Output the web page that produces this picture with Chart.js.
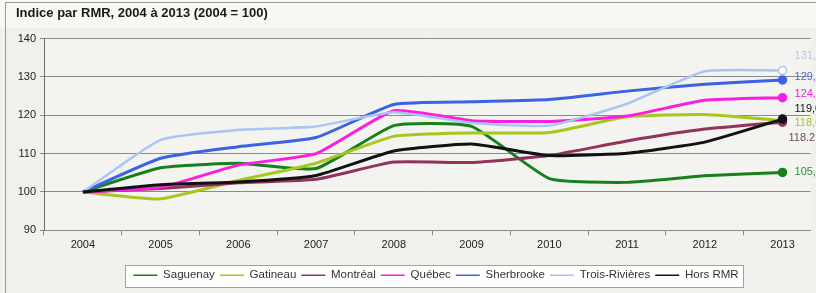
<!DOCTYPE html>
<html>
<head>
<meta charset="utf-8">
<script src="https://cdn.jsdelivr.net/npm/chart.js@4.4.0/dist/chart.umd.min.js"></script>
<style>
    html, body { margin: 0; padding: 0; background: #f0f0ec; }
    #wrap { width: 816px; height: 293px; position: relative; }
</style>
</head>
<body>
<div id="wrap"><canvas id="rmrChart" width="816" height="293"></canvas></div>
<script>
// années
const years = [2004, 2005, 2006, 2007, 2008, 2009, 2010, 2011, 2012, 2013];

const seriesNames = ['Saguenay', 'Gatineau', 'Montréal', 'Québec', 'Sherbrooke', 'Trois-Rivières', 'Hors RMR'];

const saguenay     = [100, 106.3, 107.5, 106.1, 117.3, 117.1, 103.5, 102.5, 104.2, 105.1];
const gatineau     = [100, 98.2, 103.0, 107.5, 114.5, 115.4, 115.5, 119.6, 120.2, 118.6];
const montreal     = [100, 100.9, 102.4, 103.3, 107.8, 107.7, 109.5, 113.3, 116.4, 118.2];
const quebec       = [100, 101.2, 107.0, 110.0, 121.2, 118.6, 118.4, 119.8, 123.9, 124.6];
const sherbrooke   = [100, 108.8, 111.8, 114.2, 122.8, 123.5, 124.1, 126.3, 128.1, 129.2];
const troisRiviere = [100, 113.6, 116.2, 117.1, 120.8, 118.0, 117.3, 123.0, 131.5, 131.7];
const horsRmr      = [100, 101.9, 102.6, 104.3, 110.7, 112.5, 109.5, 110.1, 113.0, 119.0];

const yTicks = [90, 100, 110, 120, 130, 140];

const allSeries = [saguenay, gatineau, montreal, quebec, sherbrooke, troisRiviere, horsRmr];

const LINE_COLORS  = ['#17801c', '#a6c81e', '#93325a', '#fa1ee0', '#3b63e4', '#a9c6f2', '#121212'];
const LABEL_COLORS = ['#2f8f34', '#a6c81e', '#6e4a5e', '#f01ed8', '#4a6ad8', '#b4c8e6', '#111111'];
const LABEL_DY     = [0, 2, 16, -4, -3, -14, -10];
const LABEL_DX     = [12, 12, 6, 12, 12, 12, 12];

const datasets = allSeries.map((vals, i) => {
    const last = vals.length - 1;
    return {
        label: seriesNames[i],
        data: vals.map((v, k) => ({ x: years[k], y: v })),
        borderColor: LINE_COLORS[i],
        backgroundColor: LINE_COLORS[i],
        borderWidth: i === 5 ? 2.5 : 3,
        tension: 0.15,
        order: allSeries.length - 1 - i,
        pointRadius: vals.map((v, k) => k === last ? 4 : 0),
        pointBackgroundColor: i === 5 ? '#ffffff' : LINE_COLORS[i],
        pointBorderColor: LINE_COLORS[i],
        pointBorderWidth: 1.5
    };
});

const bgPlugin = {
    id: 'bg',
    beforeDraw(chart) {
        const { ctx, chartArea: a } = chart;
        ctx.save();
        ctx.fillStyle = '#f7f7f4';
        ctx.fillRect(0, 0, chart.width, 28);
        ctx.fillStyle = '#f3f3ef';
        ctx.fillRect(a.left, a.top, a.right - a.left, a.bottom - a.top);
        ctx.strokeStyle = '#9a9a9a';
        ctx.lineWidth = 1;
        ctx.beginPath();
        ctx.moveTo(5.5, 2);
        ctx.lineTo(5.5, chart.height);
        ctx.moveTo(5.5, 2.5);
        ctx.lineTo(chart.width, 2.5);
        ctx.stroke();
        ctx.restore();
    }
};

// décale la légende (centrée un peu à droite dans l'original)
const legendShift = { dx: 20, dy: 10 };

function legendRect(chart) {
    const boxes = chart.legend && chart.legend.legendHitBoxes;
    if (!boxes || !boxes.length) return null;
    const left = Math.min(...boxes.map(b => b.left)) - 8;
    const right = Math.max(...boxes.map(b => b.left + b.width)) + 5;
    const top = Math.min(...boxes.map(b => b.top)) - 5;
    const bottom = Math.max(...boxes.map(b => b.top + b.height)) + 5;
    return { left: Math.round(left), top: Math.round(top), w: Math.round(right - left), h: Math.round(bottom - top) };
}

const legendBoxPlugin = {
    id: 'legendBox',
    afterLayout(chart) {
        const lg = chart.legend;
        if (!lg) return;
        lg.left += legendShift.dx;
        lg.right += legendShift.dx;
        lg.top += legendShift.dy;
        lg.bottom += legendShift.dy;
    },
    beforeDraw(chart) {
        const r = legendRect(chart);
        if (!r) return;
        chart.ctx.save();
        chart.ctx.fillStyle = '#ffffff';
        chart.ctx.fillRect(r.left, r.top, r.w, r.h);
        chart.ctx.restore();
    },
    afterDraw(chart) {
        const r = legendRect(chart);
        if (!r) return;
        const ctx = chart.ctx;
        ctx.save();
        ctx.strokeStyle = '#a0a0a0';
        ctx.lineWidth = 1;
        ctx.strokeRect(r.left + 0.5, r.top + 0.5, r.w, r.h);
        ctx.restore();
    }
};

const endLabelPlugin = {
    id: 'endLabels',
    afterDatasetsDraw(chart) {
        const ctx = chart.ctx;
        ctx.save();
        ctx.font = '11px "Liberation Sans", Arial, sans-serif';
        ctx.textBaseline = 'middle';
        ctx.textAlign = 'left';
        chart.data.datasets.forEach((ds, i) => {
            const meta = chart.getDatasetMeta(i);
            const pt = meta.data[meta.data.length - 1];
            const v = allSeries[i][allSeries[i].length - 1];
            let txt = v.toFixed(1);
            if (i !== 2) txt = txt.replace('.', ',');
            ctx.fillStyle = LABEL_COLORS[i];
            ctx.fillText(txt, pt.x + LABEL_DX[i], pt.y + LABEL_DY[i]);
        });
        ctx.restore();
    }
};

const FONT = '"Liberation Sans", Arial, sans-serif';

new Chart(document.getElementById('rmrChart'), {
    type: 'line',
    data: { datasets: datasets },
    options: {
        responsive: false,
        animation: false,
        layout: { padding: { left: 16, right: 0, top: 4, bottom: 12 } },
        plugins: {
            title: {
                display: true,
                text: 'Indice par RMR, 2004 à 2013 (2004 = 100)',
                align: 'start',
                color: '#1a1a1a',
                font: { family: FONT, size: 13, weight: 'bold' },
                padding: { top: 2, bottom: 17 }
            },
            legend: {
                position: 'bottom',
                labels: {
                    usePointStyle: true,
                    pointStyle: 'line',
                    pointStyleWidth: 24,
                    boxHeight: 3,
                    padding: 5,
                    color: '#333',
                    font: { family: FONT, size: 11.5 },
                    sort: (a, b) => a.datasetIndex - b.datasetIndex
                }
            },
            tooltip: { enabled: false }
        },
        scales: {
            x: {
                type: 'linear',
                min: 2003.5,
                max: 2013.36,
                afterBuildTicks: (scale) => { scale.ticks = years.map(v => ({ value: v })); },
                ticks: {
                    color: '#222',
                    font: { family: FONT, size: 11 },
                    padding: 3,
                    callback: (v) => String(v),
                    maxRotation: 0
                },
                grid: { drawOnChartArea: false, offset: true, tickLength: 5, color: '#8a8a8a' },
                border: { display: true, color: '#8a8a8a' }
            },
            y: {
                min: 90,
                max: 140,
                afterBuildTicks: (scale) => { scale.ticks = yTicks.map(v => ({ value: v })); },
                afterFit: (scale) => { scale.width = 28; },
                ticks: {
                    color: '#222',
                    font: { family: FONT, size: 11 },
                    padding: 4
                },
                grid: { color: '#8a8a8a', tickLength: 4 },
                border: { display: true, color: '#707070' }
            }
        }
    },
    plugins: [bgPlugin, legendBoxPlugin, endLabelPlugin]
});
</script>
</body>
</html>
